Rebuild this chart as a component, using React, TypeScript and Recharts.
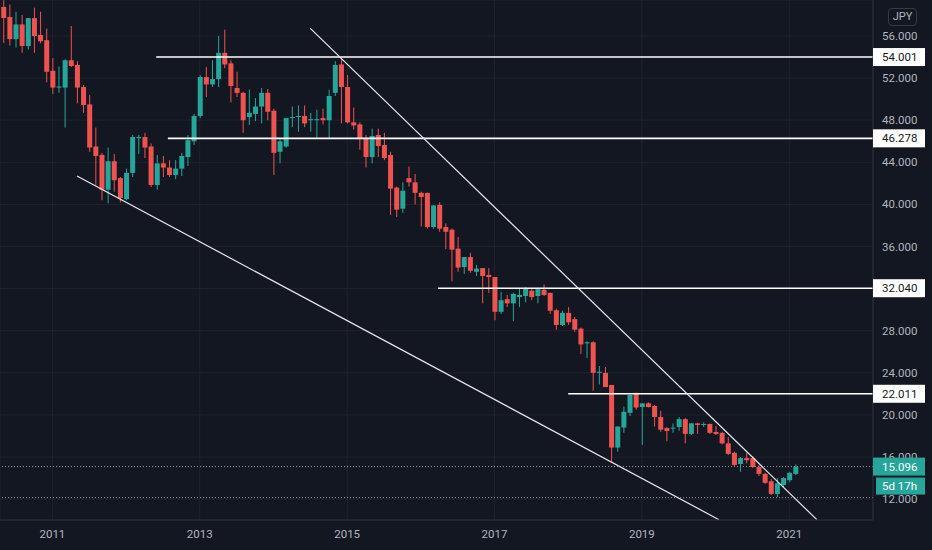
import { ComposedChart, Bar, XAxis, YAxis, CartesianGrid, ReferenceLine } from 'recharts'

// monthly candles, May 2010 .. Feb 2021 (index 1 = May 2010)
const opens = [
  58.76, 57.8, 55.7, 57.1, 55.05, 57.7, 56.1, 55.6, 52.7, 51.1,
  51.1, 53.7, 53.25, 51.15, 49.5, 45.5, 44.7, 41.4, 44.1, 42.5,
  40.5, 43.0, 46.3, 46.4, 45.5, 41.85, 43.9, 43.5, 42.8, 43.4,
  44.5, 46.0, 48.4, 52.1, 51.4, 51.9, 54.4, 53.4, 51.06, 50.6,
  48.3, 48.6, 49.3, 50.6, 48.9, 45.0, 45.5, 48.2, 48.3, 48.4,
  48.0, 48.0, 48.2, 48.0, 50.6, 53.3, 51.15, 47.8, 47.6, 46.3,
  44.5, 46.6, 45.65, 44.7, 41.6, 39.6, 42.5, 42.1, 41.1, 41.1,
  37.85, 39.95, 37.85, 37.6, 35.8, 34.05, 35.0, 33.6, 33.95, 33.3,
  33.1, 29.8, 31.0, 30.6, 31.2, 31.3, 31.8, 31.3, 31.9, 31.6,
  29.95, 28.55, 29.7, 29.1, 28.2, 26.8, 26.9, 24.0, 24.0, 22.85,
  16.9, 18.8, 20.2, 22.1, 20.75, 21.1, 20.85, 19.8, 18.75, 18.7,
  18.85, 19.6, 18.2, 19.2, 19.05, 19.14, 18.38, 18.3, 17.3, 16.4,
  15.34, 15.9, 15.9, 15.05, 14.4, 13.7, 12.5, 13.35, 13.8, 14.4,
]
const highs = [
  59.4, 59.0, 58.3, 58.0, 57.7, 58.7, 58.3, 56.7, 53.9, 53.1,
  53.8, 56.95, 53.6, 51.35, 50.4, 47.3, 44.9, 45.4, 44.8, 42.6,
  43.4, 46.6, 46.6, 46.8, 45.8, 44.7, 44.6, 44.2, 44.2, 44.9,
  46.6, 48.6, 52.3, 53.05, 53.7, 56.0, 56.6, 53.7, 52.6, 50.7,
  50.9, 50.1, 51.06, 50.96, 49.1, 46.3, 48.2, 49.3, 49.4, 49.4,
  48.7, 49.0, 49.1, 50.9, 53.6, 53.9, 52.3, 49.2, 47.8, 46.6,
  47.2, 47.2, 46.8, 45.0, 41.7, 42.1, 43.6, 42.9, 41.2, 41.1,
  39.95, 40.2, 38.2, 37.7, 36.9, 35.0, 35.4, 34.25, 33.95, 33.95,
  33.1, 31.7, 31.4, 31.6, 32.05, 32.15, 32.05, 32.05, 32.4, 31.6,
  30.1, 29.9, 30.25, 29.3, 28.3, 27.0, 27.0, 24.65, 24.55, 22.85,
  18.9, 20.8, 22.1, 22.1, 21.1, 21.2, 20.95, 20.4, 18.85, 19.2,
  19.8, 19.7, 19.2, 19.2, 19.3, 19.2, 18.95, 18.4, 17.9, 16.5,
  16.0, 16.4, 16.1, 15.24, 14.5, 13.9, 14.0, 14.1, 14.6, 15.3,
]
const lows = [
  55.34, 55.1, 54.9, 54.4, 54.7, 54.4, 55.3, 51.6, 50.5, 50.6,
  47.3, 53.05, 49.6, 48.7, 45.0, 41.85, 40.4, 40.1, 41.2, 40.2,
  40.4, 42.6, 44.8, 44.4, 41.65, 41.4, 42.6, 42.6, 42.4, 42.7,
  43.65, 45.65, 48.2, 50.2, 51.15, 51.15, 52.96, 49.7, 50.2, 46.8,
  47.55, 47.9, 47.7, 48.0, 42.8, 43.9, 45.4, 47.35, 46.9, 47.35,
  46.9, 46.3, 47.6, 46.2, 50.3, 47.7, 47.7, 47.1, 45.2, 43.5,
  43.9, 44.5, 44.2, 39.0, 38.8, 39.2, 41.7, 40.0, 37.9, 37.7,
  37.7, 37.4, 35.75, 32.7, 33.6, 33.4, 33.5, 33.2, 30.6, 31.6,
  29.0, 29.6, 30.25, 28.9, 30.25, 30.7, 30.9, 30.6, 31.3, 29.6,
  28.1, 28.45, 28.55, 27.9, 25.8, 25.4, 22.3, 22.9, 22.65, 15.5,
  16.5, 18.3, 19.9, 20.5, 17.15, 20.7, 18.9, 18.4, 17.5, 18.3,
  18.5, 17.3, 18.1, 18.2, 18.85, 18.2, 18.1, 17.2, 16.2, 15.1,
  14.6, 15.4, 14.96, 14.2, 13.45, 12.4, 12.2, 13.15, 13.6, 14.3,
]
const closes = [
  57.71, 55.7, 57.1, 55.05, 57.7, 56.0, 55.5, 52.6, 51.1, 51.2,
  53.7, 53.15, 51.1, 49.45, 45.4, 44.6, 41.4, 44.1, 42.3, 40.6,
  43.0, 46.4, 46.4, 45.4, 41.85, 43.9, 43.5, 42.8, 43.4, 44.6,
  46.1, 48.4, 52.1, 51.4, 51.9, 54.4, 53.3, 51.25, 50.6, 48.0,
  48.7, 49.3, 50.6, 48.8, 44.9, 46.0, 48.2, 48.3, 48.4, 47.7,
  48.1, 48.1, 48.0, 50.3, 53.25, 51.15, 47.8, 47.5, 46.2, 44.5,
  46.5, 45.55, 44.4, 41.5, 39.5, 41.3, 42.1, 41.1, 40.7, 37.85,
  39.9, 37.7, 37.4, 35.7, 34.0, 35.0, 33.7, 33.9, 33.2, 33.1,
  29.8, 30.9, 30.6, 31.5, 31.4, 32.05, 31.2, 31.95, 31.4, 29.9,
  28.55, 29.7, 28.8, 28.1, 26.7, 26.9, 24.0, 24.1, 22.65, 16.9,
  18.9, 20.3, 21.9, 20.7, 21.1, 20.75, 19.8, 18.6, 18.48, 18.8,
  19.6, 18.2, 19.2, 19.05, 19.14, 18.3, 18.2, 17.3, 16.3, 15.25,
  15.9, 15.7, 15.05, 14.4, 13.55, 12.5, 13.5, 14.0, 14.5, 15.096,
]

const yearTicks = [9, 33, 57, 81, 105, 129]
const yearLabels = ['2011', '2013', '2015', '2017', '2019', '2021']
const priceTicks = [56, 52, 48, 44, 40, 36, 28, 24, 20, 16, 12]
const gridTicks = [56, 52, 48, 44, 40, 36, 32, 28, 24, 20, 16, 12]

// drawn levels: price and the candle where the line starts
const levelPrices = [54.001, 46.278, 32.04, 22.011]
const levelStarts = [25.9, 27.8, 71.8, 93.0]
// trend lines [candle, price]
const trendFrom = [[51, 56.72], [13, 42.7]]
const trendTo = [[133.5, 10.05], [117.56, 10.05]]

const lastPrice = 15.096
const lowMark = 12.15
const countdown = '5d 17h'

const X_DOMAIN: [number, number] = [0.4625, 142.64]
const Y_DOMAIN: [number, number] = [10.02, 59.42]

const BG = '#131722'
const GRID = '#1f2330'
const TEXT = '#b2b5be'
const UP = '#26a69a'
const DOWN = '#ef5350'
const FONT = 'Roboto, sans-serif'

const data = opens.map((o, i) => ({
  idx: i + 1,
  open: o,
  high: highs[i],
  low: lows[i],
  close: closes[i],
  range: [lows[i], highs[i]],
}))

function Candle(props: any) {
  const { x, y, width, height, payload } = props
  if (!payload) return null
  const { open, close, high, low } = payload
  const top = Math.min(y, y + height)
  const h = Math.abs(height)
  const ppu = h / (high - low)
  const cx = x + width / 2
  const yO = top + (high - open) * ppu
  const yC = top + (high - close) * ppu
  const color = close >= open ? UP : DOWN
  return (
    <g>
      <line x1={cx} x2={cx} y1={top} y2={top + h} stroke={color} strokeWidth={1} />
      <rect x={x} y={Math.min(yO, yC)} width={width} height={Math.max(1, Math.abs(yO - yC))} fill={color} />
    </g>
  )
}

function PriceTick(props: any) {
  const { x, y, payload } = props
  const v = payload.value
  const label = v.toFixed(3)
  if (levelPrices.includes(v)) {
    return (
      <g>
        <rect x={x - 9} y={y - 9} width={52} height={18} fill="#ffffff" />
        <text x={x} y={y} dominantBaseline="central" fill="#131722" fontSize={11.5} fontFamily={FONT}>{label}</text>
      </g>
    )
  }
  if (v === lastPrice) {
    return (
      <g>
        <rect x={x - 9} y={y - 9} width={52} height={18} fill={UP} />
        <text x={x} y={y} dominantBaseline="central" fill="#ffffff" fontSize={11.5} fontFamily={FONT}>{label}</text>
        <rect x={x - 6} y={y + 11} width={49} height={17} fill={UP} />
        <text x={x} y={y + 19.5} dominantBaseline="central" fill="#ffffff" fontSize={11.5} fontFamily={FONT}>{countdown}</text>
      </g>
    )
  }
  return (
    <text x={x} y={y} dominantBaseline="central" fill={TEXT} fontSize={11.5} fontFamily={FONT}>{label}</text>
  )
}

export default function App() {
  return (
    <div style={{ position: 'relative', width: 932, height: 550, background: BG }}>
      <style>{`body{margin:0;background:${BG}}`}</style>
      <ComposedChart width={932} height={550} data={data} margin={{ top: 0, right: 0, left: 0, bottom: 0 }}>
        <CartesianGrid stroke={GRID} yAxisId="grid" />
        <XAxis
          dataKey="idx"
          type="number"
          domain={X_DOMAIN}
          allowDataOverflow
          ticks={yearTicks}
          interval={0}
          tickFormatter={(v: number) => yearLabels[yearTicks.indexOf(v)]}
          height={30}
          tickLine={false}
          tickSize={0}
          tickMargin={10}
          axisLine={{ stroke: '#2a2e39' }}
          tick={{ fill: TEXT, fontSize: 11.5, fontFamily: FONT }}
        />
        <YAxis
          yAxisId="grid"
          type="number"
          domain={Y_DOMAIN}
          allowDataOverflow
          ticks={gridTicks}
          hide
        />
        <YAxis
          orientation="right"
          type="number"
          domain={Y_DOMAIN}
          allowDataOverflow
          ticks={[...priceTicks, ...levelPrices, lastPrice]}
          interval={0}
          width={59}
          tickLine={false}
          tickSize={0}
          tickMargin={9}
          axisLine={{ stroke: '#2a2e39' }}
          tick={<PriceTick />}
        />
        <ReferenceLine y={lastPrice} stroke="#8f959e" strokeDasharray="1 2" />
        <ReferenceLine y={lowMark} stroke="#8f959e" strokeDasharray="1 2" />
        <Bar dataKey="range" barSize={5} shape={<Candle />} isAnimationActive={false} />
        {levelPrices.map((p, i) => (
          <ReferenceLine
            key={p}
            segment={[{ x: levelStarts[i], y: p }, { x: X_DOMAIN[1], y: p }]}
            stroke="#ffffff"
            strokeWidth={1.6}
            ifOverflow="visible"
          />
        ))}
        {trendFrom.map((f, i) => (
          <ReferenceLine
            key={i}
            segment={[{ x: f[0], y: f[1] }, { x: trendTo[i][0], y: trendTo[i][1] }]}
            stroke="#e6e8ee"
            strokeWidth={1.2}
            ifOverflow="visible"
          />
        ))}
      </ComposedChart>
      <div
        style={{
          position: 'absolute', left: 888, top: 8, width: 29, height: 18,
          border: '1px solid #363a45', borderRadius: 4, boxSizing: 'border-box',
          color: TEXT, fontFamily: FONT, fontSize: 11, lineHeight: '16px', textAlign: 'center',
        }}
      >
        JPY
      </div>
    </div>
  )
}
